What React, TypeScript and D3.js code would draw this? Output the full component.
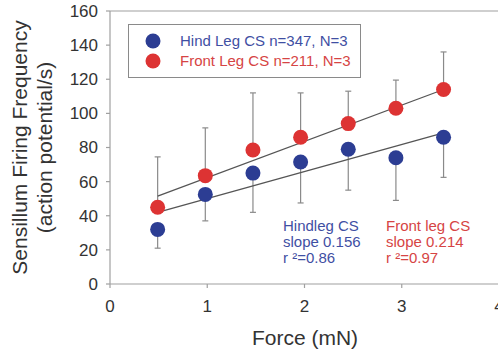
import React from "react";
import * as d3 from "d3";

const forces = [0.49, 0.98, 1.47, 1.96, 2.45, 2.94, 3.43];
const hindMeans = [32, 52.5, 65, 71.5, 79, 74, 86];
const hindSD = [11, 15.5, 23, 24, 24, 25, 23.5];
const frontMeans = [45, 63.5, 78.5, 86, 94, 103, 114];
const frontSD = [29.5, 28, 33.5, 26, 19, 16.5, 22];
const fitX = [0.49, 3.43];
const hindFit = [42, 88.5];
const frontFit = [51.5, 114];
const xTicks = [0, 1, 2, 3, 4];
const yTicks = [0, 20, 40, 60, 80, 100, 120, 140, 160];
const legendLabels = ["Hind Leg CS n=347, N=3", "Front Leg CS n=211, N=3"];
const hindNote = ["Hindleg CS", "slope 0.156", "r \u00b2=0.86"];
const frontNote = ["Front leg CS", "slope 0.214", "r \u00b2=0.97"];

const W = 498, H = 351;
const BLUE = "#2c3d93";
const RED = "#dd3333";
const BLUE_T = "#3f4fa3";
const RED_T = "#d64444";
const FONT = "Liberation Sans, Arial, sans-serif";

export default function App() {
  const x = d3.scaleLinear().domain([0, 4]).range([110, 499]);
  const y = d3.scaleLinear().domain([0, 160]).range([284, 11]);
  const line = d3.line<[number, number]>().x(d => x(d[0])).y(d => y(d[1]));
  const fit = (v: number[]) => line(fitX.map((fx, i) => [fx, v[i]] as [number, number])) || "";
  const cap = 3;
  return (
    <svg width={W} height={H} style={{ position: "absolute", left: 0, top: 0, background: "#fff" }} fontFamily={FONT}>
      {/* axes */}
      <line x1={x(0)} x2={x(4)} y1={y(160)} y2={y(160)} stroke="#a0a0a0" strokeWidth={1.2} />
      <line x1={x(0)} x2={x(0)} y1={y(0)} y2={y(160)} stroke="#a0a0a0" strokeWidth={1.2} />
      <line x1={x(0)} x2={x(4)} y1={y(0)} y2={y(0)} stroke="#a0a0a0" strokeWidth={1.2} />
      {yTicks.map(t => (
        <g key={"y" + t}>
          <line x1={x(0) - 4} x2={x(0)} y1={y(t)} y2={y(t)} stroke="#a0a0a0" strokeWidth={1.2} />
          <text x={98} y={y(t)} dy="0.35em" textAnchor="end" fontSize={17} fill="#333">{t}</text>
        </g>
      ))}
      {xTicks.map(t => (
        <g key={"x" + t}>
          <line x1={x(t)} x2={x(t)} y1={y(0)} y2={y(0) + 4} stroke="#a0a0a0" strokeWidth={1.2} />
          <text x={x(t)} y={312} textAnchor="middle" fontSize={17} fill="#333">{t}</text>
        </g>
      ))}
      {/* axis titles */}
      <text x={W / 2 + 56} y={345} textAnchor="middle" fontSize={21} fill="#333">Force (mN)</text>
      <g transform={`translate(0, ${y(80)}) rotate(-90)`}>
        <text x={0} y={27} textAnchor="middle" fontSize={21} fill="#333">Sensillum Firing Frequency</text>
        <text x={0} y={52} textAnchor="middle" fontSize={21} fill="#333">(action potential/s)</text>
      </g>
      {/* error bars */}
      {forces.map((f, i) => (
        <g key={"ef" + i} stroke="#8a8a8a" strokeWidth={1.2}>
          <line x1={x(f)} x2={x(f)} y1={y(frontMeans[i])} y2={y(frontMeans[i] + frontSD[i])} />
          <line x1={x(f) - cap} x2={x(f) + cap} y1={y(frontMeans[i] + frontSD[i])} y2={y(frontMeans[i] + frontSD[i])} />
          <line x1={x(f)} x2={x(f)} y1={y(hindMeans[i])} y2={y(hindMeans[i] - hindSD[i])} />
          <line x1={x(f) - cap} x2={x(f) + cap} y1={y(hindMeans[i] - hindSD[i])} y2={y(hindMeans[i] - hindSD[i])} />
        </g>
      ))}
      {/* regression lines */}
      <path d={fit(hindFit)} stroke="#555" strokeWidth={1.3} fill="none" />
      <path d={fit(frontFit)} stroke="#555" strokeWidth={1.3} fill="none" />
      {/* markers */}
      {forces.map((f, i) => (
        <circle key={"h" + i} cx={x(f)} cy={y(hindMeans[i])} r={7.5} fill={BLUE} />
      ))}
      {forces.map((f, i) => (
        <circle key={"f" + i} cx={x(f)} cy={y(frontMeans[i])} r={7.5} fill={RED} />
      ))}
      {/* legend */}
      <rect x={128.5} y={24.5} width={232} height={53} fill="#fff" stroke="#8a8a8a" strokeWidth={1} />
      <circle cx={153} cy={41} r={7.5} fill={BLUE} />
      <circle cx={153} cy={61} r={7.5} fill={RED} />
      <text x={180} y={46} fontSize={15} fill={BLUE_T}>{legendLabels[0]}</text>
      <text x={180} y={66} fontSize={15} fill={RED_T}>{legendLabels[1]}</text>
      {/* annotations */}
      {hindNote.map((s, i) => (
        <text key={"hn" + i} x={283} y={231 + i * 16} fontSize={15} fill={BLUE_T}>{s}</text>
      ))}
      {frontNote.map((s, i) => (
        <text key={"fn" + i} x={386} y={231 + i * 16} fontSize={15} fill={RED_T}>{s}</text>
      ))}
    </svg>
  );
}
